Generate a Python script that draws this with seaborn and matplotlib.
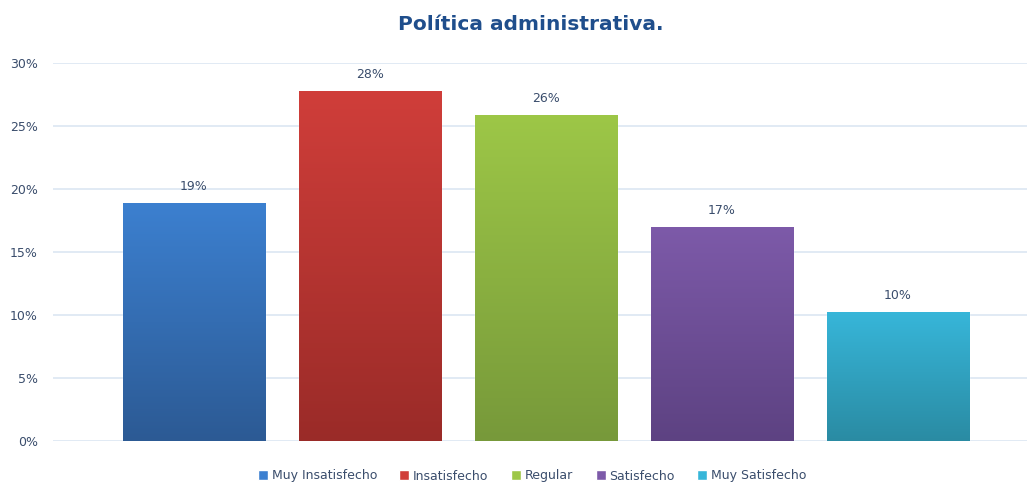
import numpy as np
import pandas as pd
import matplotlib
matplotlib.use("Agg")
import matplotlib.pyplot as plt
import seaborn as sns
from matplotlib.colors import LinearSegmentedColormap

categories = ["Muy Insatisfecho", "Insatisfecho", "Regular", "Satisfecho", "Muy Satisfecho"]
values = [18.9, 27.8, 25.9, 17.0, 10.2]
labels = ["19%", "28%", "26%", "17%", "10%"]
top_colors = ["#3C80D0", "#D03E3A", "#9DC747", "#7D5AA9", "#37B6D9"]
bottom_colors = ["#2C5A94", "#9A2B28", "#77993A", "#5D4282", "#2A8BA3"]
yticks = [0, 5, 10, 15, 20, 25, 30]
ytick_labels = ["0%", "5%", "10%", "15%", "20%", "25%", "30%"]
title = "Política administrativa."

sns.set_theme(style="white")
plt.rcParams['font.family'] = ['DejaVu Sans']

W, H = 1027, 482
fig = plt.figure(figsize=(W / 100, H / 100), dpi=100)
ax = fig.add_axes([53 / W, 1 - 441 / H, 1 - 53 / W, (441 - 63) / H])

df = pd.DataFrame({"cat": categories, "val": values})
sns.barplot(data=df, x="cat", y="val", hue="cat", palette=top_colors,
            width=0.81, ax=ax, legend=True, saturation=1)

ax.set_xlim(-0.801, 4.733)
ax.set_ylim(0, 30)
ax.set_yticks(yticks)
ax.set_yticklabels(ytick_labels, fontsize=9, color="#3A4D6C")
ax.set_xticks([])
ax.set_xlabel("")
ax.set_ylabel("")
for s in ax.spines.values():
    s.set_visible(False)
ax.tick_params(axis="y", length=0, pad=11)
ax.yaxis.grid(True, color="#DCE6F2", linewidth=1.2)
ax.set_axisbelow(True)

# gradient fill
for i, patch in enumerate(ax.patches[:len(categories)]):
    x0, y0 = patch.get_x(), patch.get_y()
    w, h = patch.get_width(), patch.get_height()
    cmap = LinearSegmentedColormap.from_list("g", [bottom_colors[i], top_colors[i]])
    grad = np.linspace(0, 1, 256).reshape(-1, 1)
    im = ax.imshow(grad, extent=[x0, x0 + w, y0, y0 + h], origin="lower",
                   aspect="auto", cmap=cmap, zorder=patch.get_zorder() + 0.1)
    im.set_clip_path(patch)
    ax.text(x0 + w / 2, y0 + h + 0.8, labels[i], ha="center", va="bottom",
            fontsize=9, color="#3A4D6C")

ax.set_xlim(-0.801, 4.733)
ax.set_ylim(0, 30)

# legend
leg = ax.get_legend()
handles = leg.legend_handles if hasattr(leg, "legend_handles") else leg.legendHandles
leg.remove()
fig.legend(handles, categories, loc="center", bbox_to_anchor=(532 / W, 1 - 476 / H),
           ncol=5, frameon=False, fontsize=9, handlelength=0.8, handleheight=0.8,
           handletextpad=0.3, columnspacing=1.8, labelcolor="#3A4D6C")

fig.text(531 / W, 1 - 24 / H, title, ha="center", va="center", fontsize=14.5,
         fontweight="bold", color="#1F4E8C")

fig.savefig("out.png", dpi=100, facecolor="white")
